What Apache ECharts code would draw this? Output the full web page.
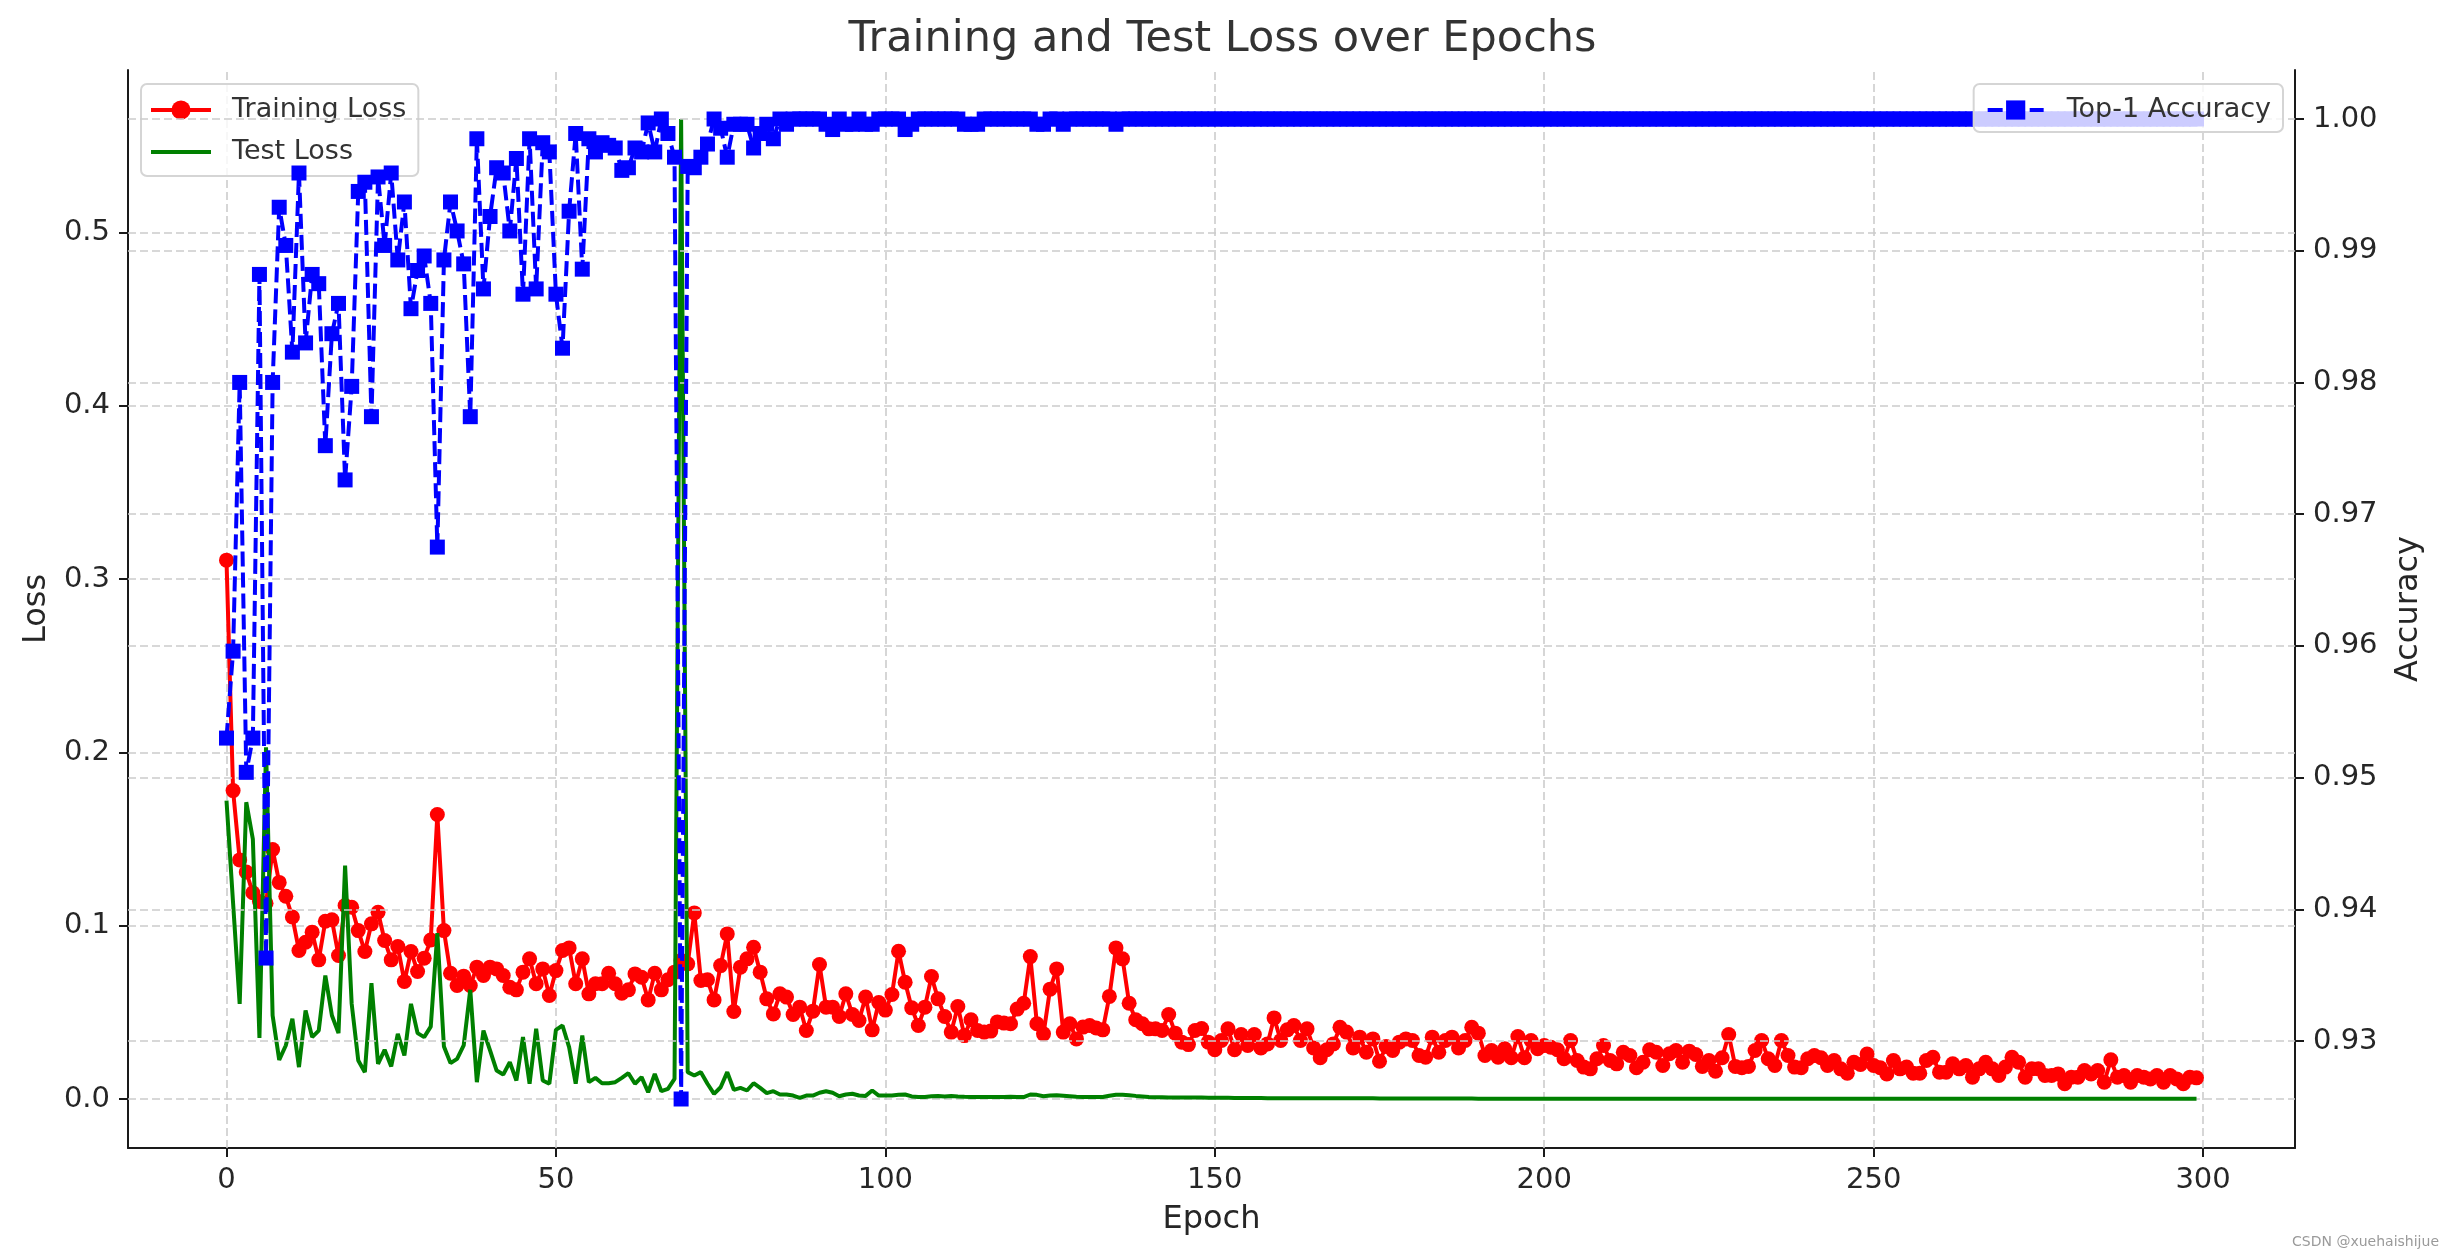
<!DOCTYPE html>
<html>
<head>
<meta charset="utf-8">
<script src="https://cdn.jsdelivr.net/npm/echarts@6/dist/echarts.min.js"></script>
<style>
html,body{margin:0;padding:0;background:#fff;}
#chart{width:2445px;height:1255px;}
</style>
</head>
<body>
<div id="chart"></div>
<script>
// ---------------- DATA ----------------
const epochCount = 300;
const epochs = Array.from({length: epochCount}, (_, i) => i);

const trainLoss = [
0.311,0.178,0.138,0.131,0.119,0.114,0.113,0.144,0.125,0.117,
0.105,0.0857,0.0905,0.0963,0.0803,0.1026,0.1034,0.0828,0.1117,0.1107,
0.0972,0.0851,0.1011,0.1078,0.0915,0.0803,0.088,0.0678,0.0851,0.0736,
0.0813,0.0918,0.1642,0.0972,0.0726,0.0655,0.0709,0.0655,0.0761,0.0713,
0.0761,0.0751,0.0713,0.0645,0.063,0.0732,0.0809,0.0665,0.0751,0.0597,
0.0741,0.0857,0.0872,0.0665,0.0809,0.0607,0.0665,0.0665,0.0726,0.0665,
0.0611,0.063,0.0722,0.0703,0.0572,0.0726,0.063,0.0688,0.0732,0.0799,
0.078,0.1074,0.0684,0.0688,0.0572,0.077,0.0953,0.0505,0.0761,0.0809,
0.0876,0.0732,0.0578,0.0491,0.0607,0.0588,0.0488,0.053,0.0395,0.0507,
0.0776,0.053,0.053,0.0476,0.0607,0.0488,0.0453,0.0588,0.0399,0.0557,
0.0513,0.0603,0.0853,0.0674,0.0526,0.0424,0.053,0.0707,0.0578,0.0476,
0.0386,0.0534,0.0366,0.0457,0.0395,0.0386,0.0392,0.0445,0.0438,0.0434,
0.0519,0.0553,0.0822,0.0434,0.0376,0.0634,0.0751,0.0386,0.0434,0.0347,
0.0415,0.0424,0.041,0.0399,0.0592,0.0872,0.0809,0.0553,0.0457,0.0434,
0.0405,0.0405,0.0395,0.0488,0.038,0.0328,0.0314,0.0395,0.0407,0.0328,
0.0284,0.0338,0.0405,0.0284,
0.0372,0.0309,0.0372,0.0295,0.0318,0.0468,0.0338,0.0399,0.0424,0.0338,
0.0405,0.0295,0.0238,0.0284,0.0318,0.0414,0.0386,0.0295,0.0357,0.027,
0.0347,0.0218,0.0303,0.028,0.0328,0.0347,0.0338,0.0251,0.0241,0.0357,
0.027,0.0338,0.0357,0.0295,0.0338,0.0414,0.038,0.0251,0.028,0.0241,
0.029,0.0238,0.0361,0.0238,0.0338,0.029,0.0309,0.0299,0.0284,0.0232,
0.0338,0.0222,0.0184,0.0174,0.0232,0.0309,0.0222,0.0203,0.027,0.0251,
0.018,0.0212,0.0284,0.027,0.0193,0.0261,0.028,0.0212,0.0276,0.0257,
0.0188,0.0222,0.016,0.0238,0.0372,0.0188,0.018,0.0188,0.028,0.0338,
0.0232,0.0193,
0.0338,0.0251,0.0184,0.018,0.0232,0.0251,0.0238,0.0193,0.0222,0.0174,
0.0149,0.0212,0.0199,0.026,0.0193,0.018,0.0145,0.0222,0.0174,0.0184,
0.0149,0.0149,0.0222,0.0241,0.0155,0.0155,0.0203,0.0174,0.0193,0.0126,
0.0174,0.0212,0.0174,0.0136,0.0184,0.0241,0.0212,0.0126,0.0174,0.0174,
0.0136,0.0136,0.0145,0.0088,0.0126,0.0126,0.0164,0.0145,0.0164,0.0097,
0.0226,0.0126,0.0136,0.0097,0.0136,0.0126,0.0116,0.0136,0.0097,0.0136,
0.0116,0.0088,0.0126,0.0122
];

const testLoss = [
0.1722,0.113,0.0549,0.1713,0.150,0.0353,0.203,0.0482,0.0226,0.0309,
0.0463,0.0184,0.0511,0.0357,0.0395,0.0713,0.0482,0.038,0.1347,0.0549,
0.0222,0.0155,0.0668,0.0203,0.0284,0.0188,0.0376,0.0251,0.0549,0.038,
0.0357,0.0418,0.0957,0.0303,0.0207,0.0232,0.0309,0.063,0.0097,0.0395,
0.028,0.0164,0.0141,0.0213,0.0107,0.0357,0.0088,0.0405,0.0107,0.0088,
0.0399,0.0424,0.0299,0.0088,0.0366,0.0097,0.0122,0.0091,0.0091,0.0097,
0.0122,0.0149,0.0088,0.0126,0.0039,0.0145,0.0045,0.0059,0.0116,0.5656,
0.0155,0.0136,0.0155,0.0088,0.003,0.0068,0.0155,0.0053,0.0064,0.0049,
0.0091,0.0064,0.0034,0.0045,0.0026,0.0026,0.002,0.0007,0.002,0.002,
0.0036,0.0045,0.0036,0.0016,0.0026,0.003,0.002,0.0018,0.0049,0.002,
0.002,0.002,0.0024,0.0026,0.0015,0.0012,0.0012,0.0016,0.0018,0.0015,
0.0018,0.0015,0.0013,0.0012,0.0012,0.0011,0.0011,0.0011,0.0012,0.0013,
0.0012,0.0011,0.0026,0.0024,0.0016,0.002,0.0022,0.0019,0.0016,0.0013,
0.0012,0.0011,0.0011,0.0012,0.0019,0.0024,0.0024,0.0022,0.0018,0.0015,
0.0012,0.001,0.001,0.0009,0.0009,0.0009,0.0008,0.0008,0.0008,0.0007,
0.0007,0.0007,0.0007,0.0006,0.0006,0.0006,0.0006,0.0006,0.0005,0.0005,
0.0005,0.0005,0.0005,0.0005,0.0005,0.0004,0.0004,0.0004,0.0004,0.0004,
0.0004,0.0004,0.0004,0.0004,0.0004,0.0003,0.0003,0.0003,0.0003,0.0003,
0.0003,0.0003,0.0003,0.0003,0.0003,0.0003,0.0003,0.0003,0.0003,0.0003,
0.0002,0.0002,0.0002,0.0002,0.0002,0.0002,0.0002,0.0002,0.0002,0.0002,
0.0002,0.0002,0.0002,0.0002,0.0002,0.0002,0.0002,0.0002,0.0002,0.0002,
0.0002,0.0002,0.0002,0.0002,0.0002,0.0002,0.0002,0.0002,0.0002,0.0002,
0.0001,0.0001,0.0001,0.0001,0.0001,0.0001,0.0001,0.0001,0.0001,0.0001,
0.0001,0.0001,0.0001,0.0001,0.0001,0.0001,0.0001,0.0001,0.0001,0.0001,
0.0001,0.0001,0.0001,0.0001,0.0001,0.0001,0.0001,0.0001,0.0001,0.0001,
0.0001,0.0001,0.0001,0.0001,0.0001,0.0001,0.0001,0.0001,0.0001,0.0001,
0.0001,0.0001,0.0001,0.0001,0.0001,0.0001,0.0001,0.0001,0.0001,0.0001,
0.0001,0.0001,0.0001,0.0001,0.0001,0.0001,0.0001,0.0001,0.0001,0.0001,
0.0001,0.0001,0.0001,0.0001,0.0001,0.0001,0.0001,0.0001,0.0001,0.0001,
0.0001,0.0001,0.0001,0.0001,0.0001,0.0001,0.0001,0.0001,0.0001,0.0001
];

const top1Acc = [
0.953,0.9596,0.980,0.9504,0.953,0.9882,0.9363,0.980,0.9933,0.9904,
0.9823,0.9959,0.983,0.9882,0.9875,0.9752,0.9837,0.986,0.9726,0.9797,
0.9945,0.9952,0.9774,0.9956,0.9904,0.9959,0.9893,0.9937,0.9856,0.9885,
0.9896,0.986,0.9675,0.9893,0.9937,0.9915,0.989,0.9774,0.9985,0.9871,
0.9926,0.9963,0.9959,0.9915,0.997,0.9867,0.9985,0.9871,0.9982,0.9975,
0.9867,0.9826,0.993,0.9989,0.9886,0.9985,0.9975,0.9982,0.998,0.9978,
0.9961,0.9963,0.9978,0.9975,0.9997,0.9975,1.0,0.9989,0.9971,0.9256,
0.9964,0.9963,0.9971,0.9981,1.0,0.9993,0.9971,0.9996,0.9996,0.9996,
0.9978,0.9989,0.9996,0.9985,1.0,0.9996,1.0,1.0,1.0,1.0,
1.0,0.9996,0.9992,1.0,0.9996,0.9996,1.0,0.9996,0.9996,1.0,
1.0,1.0,1.0,0.9992,0.9996,1.0,1.0,1.0,1.0,1.0,
1.0,1.0,0.9996,0.9996,0.9996,1.0,1.0,1.0,1.0,1.0,
1.0,1.0,1.0,0.9996,0.9996,1.0,1.0,0.9996,1.0,1.0,
1.0,1.0,1.0,1.0,1.0,0.9996,1.0,1.0,1.0,1.0,
1.0,1.0,1.0,1.0,1.0,1.0,1.0,1.0,1.0,1.0,
1.0,1.0,1.0,1.0,1.0,1.0,1.0,1.0,1.0,1.0,
1.0,1.0,1.0,1.0,1.0,1.0,1.0,1.0,1.0,1.0,
1.0,1.0,1.0,1.0,1.0,1.0,1.0,1.0,1.0,1.0,
1.0,1.0,1.0,1.0,1.0,1.0,1.0,1.0,1.0,1.0,
1.0,1.0,1.0,1.0,1.0,1.0,1.0,1.0,1.0,1.0,
1.0,1.0,1.0,1.0,1.0,1.0,1.0,1.0,1.0,1.0,
1.0,1.0,1.0,1.0,1.0,1.0,1.0,1.0,1.0,1.0,
1.0,1.0,1.0,1.0,1.0,1.0,1.0,1.0,1.0,1.0,
1.0,1.0,1.0,1.0,1.0,1.0,1.0,1.0,1.0,1.0,
1.0,1.0,1.0,1.0,1.0,1.0,1.0,1.0,1.0,1.0,
1.0,1.0,1.0,1.0,1.0,1.0,1.0,1.0,1.0,1.0,
1.0,1.0,1.0,1.0,1.0,1.0,1.0,1.0,1.0,1.0,
1.0,1.0,1.0,1.0,1.0,1.0,1.0,1.0,1.0,1.0,
1.0,1.0,1.0,1.0,1.0,1.0,1.0,1.0,1.0,1.0,
1.0,1.0,1.0,1.0,1.0,1.0,1.0,1.0,1.0,1.0
];

const xTicks = [0, 50, 100, 150, 200, 250, 300];
const lossTicks = [0.0, 0.1, 0.2, 0.3, 0.4, 0.5];
const accTicks = [0.93, 0.94, 0.95, 0.96, 0.97, 0.98, 0.99, 1.00];

const xRange = [-14.95, 313.95];
const lossRange = [-0.02828, 0.59388];
const accRange = [0.92188, 1.00372];

// ---------------- CHART ----------------
const FONT = 'DejaVu Sans';
const TXT = '#262626';
const pair = arr => arr.map((v, i) => [epochs[i], v]);
const gridLine = {color: '#cccccc', type: [8, 4], width: 1.6};

const legendBase = {
  orient: 'vertical', top: 84,
  itemWidth: 60, itemHeight: 24,
  backgroundColor: 'rgba(255,255,255,0.8)', borderColor: '#d5d5d5', borderWidth: 2, borderRadius: 6,
  lineStyle: {width: 4},
  textStyle: {fontFamily: FONT, fontSize: 27, color: '#333333', lineHeight: 30, padding: [0, 0, 0, 16]}
};

const chart = echarts.init(document.getElementById('chart'), null, {renderer: 'canvas'});
chart.setOption({
  animation: false,
  backgroundColor: '#ffffff',
  textStyle: {fontFamily: FONT},
  title: {
    text: 'Training and Test Loss over Epochs',
    left: 'center', top: 13,
    textStyle: {fontFamily: FONT, fontSize: 43, fontWeight: 'normal', color: '#333333'}
  },
  grid: {left: 128, right: 150, top: 70, bottom: 107, containLabel: false},
  legend: [Object.assign({}, legendBase, {
    data: ['Training Loss', {name: 'Test Loss', itemStyle: {opacity: 0}}],
    left: 141, padding: [11, 12, 9, 8], itemGap: 12, z: 5
  }), Object.assign({}, legendBase, {
    data: ['Top-1 Accuracy'],
    right: 162, padding: [11, 12, 7, 12], itemWidth: 56, z: 20,
    textStyle: {fontFamily: FONT, fontSize: 27, color: '#333333', lineHeight: 30, padding: [0, 0, 0, 18]}
  })],
  xAxis: {
    type: 'value', min: xRange[0], max: xRange[1],
    name: 'Epoch', nameLocation: 'middle', nameGap: 56,
    nameTextStyle: {fontFamily: FONT, fontSize: 32, color: TXT},
    axisLine: {show: true, onZero: false, lineStyle: {color: '#1a1a1a', width: 2}},
    axisTick: {show: true, length: 9, lineStyle: {color: '#1a1a1a', width: 2}, customValues: xTicks},
    axisLabel: {show: true, margin: 18, fontFamily: FONT, fontSize: 29, color: TXT, customValues: xTicks, formatter: v => String(v)},
    splitLine: {show: false}
  },
  yAxis: [{
    type: 'value', position: 'left', min: lossRange[0], max: lossRange[1],
    name: 'Loss', nameLocation: 'middle', nameGap: 73, nameRotate: 90,
    nameTextStyle: {fontFamily: FONT, fontSize: 32, color: TXT},
    axisLine: {show: true, onZero: false, lineStyle: {color: '#1a1a1a', width: 2}},
    axisTick: {show: true, length: 9, lineStyle: {color: '#1a1a1a', width: 2}, customValues: lossTicks},
    axisLabel: {show: true, margin: 18, fontFamily: FONT, fontSize: 29, color: TXT, customValues: lossTicks, formatter: v => v.toFixed(1)},
    splitLine: {show: false}
  }, {
    type: 'value', position: 'right', min: accRange[0], max: accRange[1],
    name: 'Accuracy', nameLocation: 'middle', nameGap: 98, nameRotate: 90,
    nameTextStyle: {fontFamily: FONT, fontSize: 32, color: TXT},
    axisLine: {show: true, onZero: false, lineStyle: {color: '#1a1a1a', width: 2}},
    axisTick: {show: true, length: 9, lineStyle: {color: '#1a1a1a', width: 2}, customValues: accTicks},
    axisLabel: {show: true, margin: 18, fontFamily: FONT, fontSize: 29, color: TXT, customValues: accTicks, formatter: v => v.toFixed(2)},
    splitLine: {show: false}
  }],
  series: [{
    name: 'Training Loss', type: 'line', xAxisIndex: 0, yAxisIndex: 0,
    data: pair(trainLoss), z: 3,
    symbol: 'circle', symbolSize: 15, showSymbol: true,
    lineStyle: {color: '#ff0000', width: 4},
    itemStyle: {color: '#ff0000'},
    markLine: {
      silent: true, z: 2, symbol: ['none', 'none'], label: {show: false},
      lineStyle: gridLine, animation: false,
      data: xTicks.map(v => ({xAxis: v})).concat(lossTicks.map(v => ({yAxis: v})))
    }
  }, {
    name: 'Test Loss', type: 'line', xAxisIndex: 0, yAxisIndex: 0,
    data: pair(testLoss), z: 4,
    symbol: 'none', showSymbol: false,
    lineStyle: {color: '#008000', width: 4},
    itemStyle: {color: '#008000'}
  }, {
    name: 'Top-1 Accuracy', type: 'line', xAxisIndex: 0, yAxisIndex: 1,
    data: pair(top1Acc), z: 7,
    symbol: 'rect', symbolSize: 15, showSymbol: true,
    lineStyle: {color: '#0000ff', width: 4, type: [15, 6]},
    itemStyle: {color: '#0000ff'},
    markLine: {
      silent: true, z: 6, symbol: ['none', 'none'], label: {show: false},
      lineStyle: gridLine, animation: false,
      data: accTicks.map(v => ({yAxis: v}))
    }
  }],
  graphic: [{
    type: 'text', right: 6, bottom: 6,
    style: {text: 'CSDN @xuehaishijue', font: '14px "DejaVu Sans"', fill: '#9a9a9a'}
  }]
});
</script>
</body>
</html>
